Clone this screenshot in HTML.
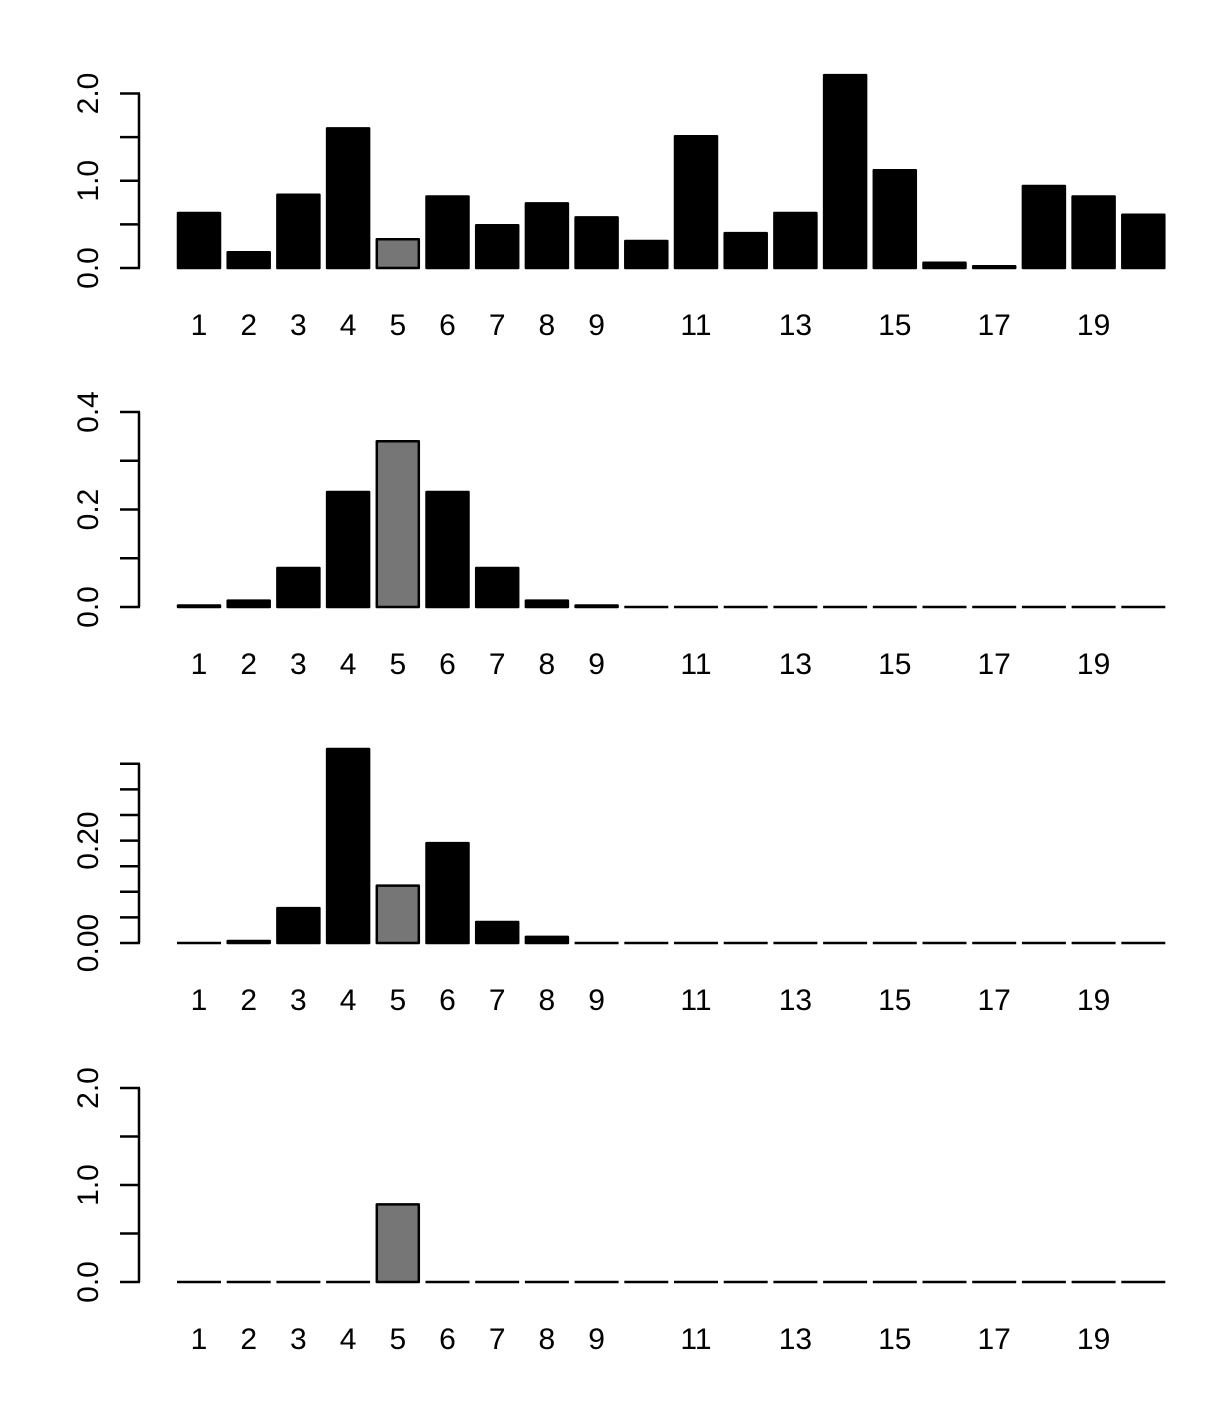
<!DOCTYPE html>
<html><head><meta charset="utf-8"><style>
html,body{margin:0;padding:0;background:#fff;}
svg{display:block;}
text{font-family:"Liberation Sans",Arial,sans-serif;font-size:30px;fill:#000;}
</style></head><body>
<svg id="s" width="1227" height="1413" viewBox="0 0 1227 1413" xmlns="http://www.w3.org/2000/svg"></svg>
<script>
var panels=[
 {z:268,ppu:87.25,ticks:[0,0.5,1,1.5,2],labels:[[0,"0.0"],[1,"1.0"],[2,"2.0"]],
  v:[0.63,0.18,0.84,1.6,0.33,0.82,0.49,0.74,0.58,0.31,1.51,0.40,0.63,2.21,1.12,0.06,0.02,0.94,0.82,0.61]},
 {z:607,ppu:487.5,ticks:[0,0.1,0.2,0.3,0.4],labels:[[0,"0.0"],[0.2,"0.2"],[0.4,"0.4"]],
  v:[0.003,0.013,0.08,0.236,0.34,0.236,0.08,0.013,0.003,0.001,0,0,0,0,0,0,0,0,0,0]},
 {z:943,ppu:512,ticks:[0,0.05,0.1,0.15,0.2,0.25,0.3,0.35],labels:[[0,"0.00"],[0.2,"0.20"]],
  v:[0.001,0.004,0.068,0.379,0.112,0.195,0.041,0.012,0.001,0,0,0,0,0,0,0,0,0,0,0]},
 {z:1282,ppu:97,ticks:[0,0.5,1,1.5,2],labels:[[0,"0.0"],[1,"1.0"],[2,"2.0"]],
  v:[0,0,0,0,0.8,0,0,0,0,0,0,0,0,0,0,0,0,0,0,0]}
];
var h='';
panels.forEach(function(p){
  var top=p.z-p.ticks[p.ticks.length-1]*p.ppu;
  h+='<line x1="139" y1="'+top+'" x2="139" y2="'+p.z+'" stroke="#000" stroke-width="2.5"/>';
  p.ticks.forEach(function(t){var y=p.z-t*p.ppu;h+='<line x1="120" y1="'+y+'" x2="140" y2="'+y+'" stroke="#000" stroke-width="2.5"/>';});
  p.labels.forEach(function(l){var y=p.z-l[0]*p.ppu;h+='<text transform="translate(98,'+y+') rotate(-90)" text-anchor="middle">'+l[1]+'</text>';});
  p.v.forEach(function(v,i){
    var x=178+i*49.7,w=42,hh=v*p.ppu,y=p.z-hh;
    var fill=i==4?'#767676':'#000';
    if(hh<1){
      h+='<line x1="'+(x-1)+'" y1="'+p.z+'" x2="'+(x+w+1)+'" y2="'+p.z+'" stroke="#000" stroke-width="2.6"/>';
    } else {
      h+='<rect x="'+x+'" y="'+y+'" width="'+w+'" height="'+hh+'" fill="'+fill+'" stroke="#000" stroke-width="2.5" stroke-linejoin="round"/>';
    }
  });
  [1,2,3,4,5,6,7,8,9,11,13,15,17,19].forEach(function(n){
    var cx=199+(n-1)*49.7;
    h+='<text x="'+cx+'" y="'+(p.z+67)+'" text-anchor="middle">'+n+'</text>';
  });
});
document.getElementById('s').innerHTML=h;
</script>
</body></html>
